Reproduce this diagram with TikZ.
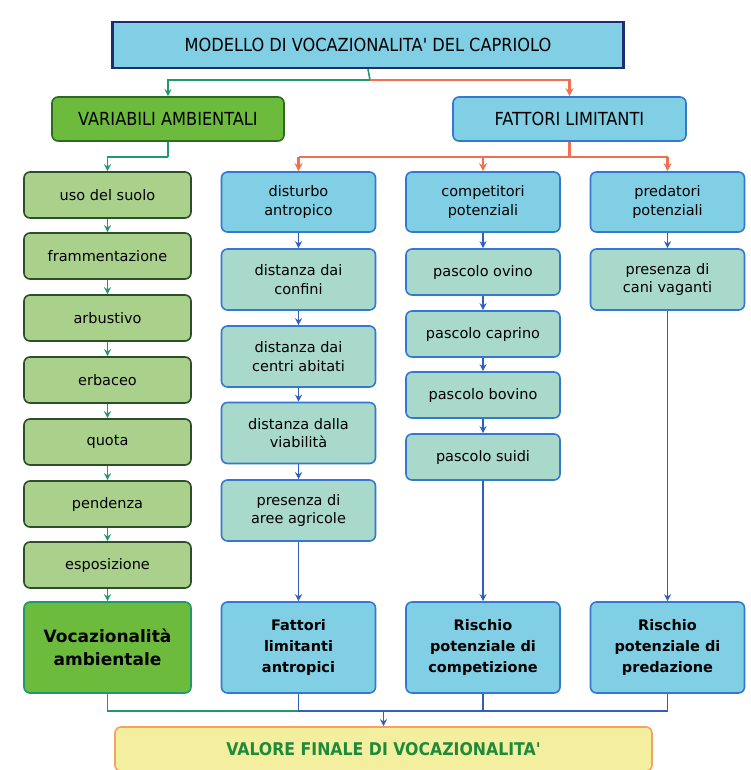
\documentclass[tikz,border=0pt]{standalone}
\usepackage{fontspec}
\setmainfont{DejaVu Sans}
\newfontfamily\condfont{DejaVu Sans Condensed}
\usetikzlibrary{arrows.meta}

\definecolor{skyfill}{HTML}{80CFE4}
\definecolor{navyline}{HTML}{1E2E6C}
\definecolor{grassfill}{HTML}{6DBB3D}
\definecolor{grassline}{HTML}{2F6A22}
\definecolor{sagefill}{HTML}{A9D18C}
\definecolor{sageline}{HTML}{2C4F28}
\definecolor{tealfill}{HTML}{A8D9CB}
\definecolor{blueline}{HTML}{3478D2}
\definecolor{arrowgreen}{HTML}{1E9A6C}
\definecolor{arroworange}{HTML}{F2704E}
\definecolor{arrowblue}{HTML}{2F5FC0}
\definecolor{lemonfill}{HTML}{F4EF9E}
\definecolor{lemonline}{HTML}{F4A35A}
\definecolor{titlegreen}{HTML}{1E8A3A}

\tikzset{
    box/.style={draw, rounded corners=6pt, line width=1.6pt, align=center,
        inner sep=2pt, text=black, font=\fontsize{14.5}{18.5}\selectfont},
    envbox/.style={box, fill=sagefill, draw=sageline, minimum width=167pt, minimum height=46pt},
    headbox/.style={box, fill=skyfill, draw=blueline, minimum width=154pt, minimum height=60pt},
    stepbox/.style={box, fill=tealfill, draw=blueline, minimum width=154pt, minimum height=61pt},
    pasbox/.style={box, fill=tealfill, draw=blueline, minimum width=154pt, minimum height=46pt},
    endbox/.style={box, fill=skyfill, draw=blueline, minimum width=154pt, minimum height=91pt,
        font=\fontsize{14.5}{21}\selectfont\bfseries},
    gline/.style={draw=arrowgreen, line width=1.6pt},
    oline/.style={draw=arroworange, line width=2.2pt},
    bline/.style={draw=arrowblue, line width=1.6pt},
    garrow/.style={gline, -{Stealth[length=7pt,width=7pt]}},
    oarrow/.style={oline, -{Stealth[length=8pt,width=8pt]}},
    barrow/.style={bline, -{Stealth[length=7pt,width=7pt]}}
}

\begin{document}
\begin{tikzpicture}[x=1pt, y=-1pt]
    \useasboundingbox[fill=white] (0,0) rectangle (751,770);

    % title and the two branches
    \node[draw=navyline, fill=skyfill, line width=2.4pt, minimum width=511pt, minimum height=46pt,
        font=\condfont\fontsize{18}{20}\selectfont] (model) at (368,45) {MODELLO DI VOCAZIONALITA' DEL CAPRIOLO};
    \node[box, fill=grassfill, draw=grassline, minimum width=232pt, minimum height=44pt,
        font=\condfont\fontsize{18}{20}\selectfont] (var) at (168,119) {VARIABILI AMBIENTALI};
    \node[box, fill=skyfill, draw=blueline, minimum width=233pt, minimum height=44pt,
        font=\condfont\fontsize{18}{20}\selectfont] (lim) at (569.5,119) {FATTORI LIMITANTI};

    \coordinate (split) at (370,80);
    \draw[gline] (model.south) -- (split);
    \draw[garrow] (split) -| (var.north);
    \draw[oarrow] (split) -| (lim.north);

    % environmental variables
    \node[envbox] (suolo) at (107.5,195) {uso del suolo};
    \node[envbox] (fram) at (107.5,256) {frammentazione};
    \node[envbox] (arb) at (107.5,318) {arbustivo};
    \node[envbox] (erb) at (107.5,380) {erbaceo};
    \node[envbox] (quota) at (107.5,442) {quota};
    \node[envbox] (pend) at (107.5,504) {pendenza};
    \node[envbox] (espo) at (107.5,565) {esposizione};
    \node[box, fill=grassfill, draw=arrowgreen, minimum width=167pt, minimum height=91pt,
        font=\fontsize{17}{23}\selectfont\bfseries] (voc) at (107.5,647.5) {Vocazionalità\\ambientale};

    \coordinate (varsplit) at (168,157);
    \draw[gline] (var.south) -- (varsplit);
    \draw[garrow] (varsplit) -| (suolo.north);
    \foreach \a/\b in {suolo/fram, fram/arb, arb/erb, erb/quota, quota/pend, pend/espo, espo/voc}
        \draw[garrow] (\a) -- (\b);

    % limiting factors
    \node[headbox] (dist) at (298.5,202) {disturbo\\antropico};
    \node[stepbox] (conf) at (298.5,279.5) {distanza dai\\confini};
    \node[stepbox] (centri) at (298.5,356.5) {distanza dai\\centri abitati};
    \node[stepbox] (viab) at (298.5,433) {distanza dalla\\viabilità};
    \node[stepbox] (agri) at (298.5,510.5) {presenza di\\aree agricole};
    \node[endbox] (antr) at (298.5,647.5) {Fattori\\limitanti\\antropici};

    \node[headbox] (comp) at (483,202) {competitori\\potenziali};
    \node[pasbox] (ovino) at (483,272) {pascolo ovino};
    \node[pasbox] (caprino) at (483,334) {pascolo caprino};
    \node[pasbox] (bovino) at (483,395) {pascolo bovino};
    \node[pasbox] (suidi) at (483,457) {pascolo suidi};
    \node[endbox] (rcomp) at (483,647.5) {Rischio\\potenziale di\\competizione};

    \node[headbox] (pred) at (667.5,202) {predatori\\potenziali};
    \node[stepbox] (cani) at (667.5,279.5) {presenza di\\cani vaganti};
    \node[endbox] (rpred) at (667.5,647.5) {Rischio\\potenziale di\\predazione};

    \coordinate (limsplit) at (569.5,157);
    \draw[oline] (lim.south) -- (limsplit);
    \draw[oline] (dist.north |- limsplit) -- (pred.north |- limsplit);
    \foreach \c in {dist, comp, pred}
        \draw[oarrow] (\c.north |- limsplit) -- (\c.north);

    \foreach \a/\b in {dist/conf, conf/centri, centri/viab, viab/agri, agri/antr,
                       comp/ovino, ovino/caprino, caprino/bovino, bovino/suidi, suidi/rcomp,
                       pred/cani, cani/rpred}
        \draw[barrow] (\a) -- (\b);

    % final value
    \node[box, fill=lemonfill, draw=lemonline, minimum width=537pt, minimum height=44pt,
        font=\condfont\fontsize{17.5}{20}\selectfont\bfseries, text=titlegreen] (valore) at (383.5,749) {VALORE FINALE DI VOCAZIONALITA'};

    \coordinate (bus) at (383.5,711);
    \draw[gline] (voc.south) |- (bus -| antr.south);
    \draw[bline] (antr.south) |- (bus -| rpred.south) -- (rpred.south);
    \draw[bline] (rcomp.south) -- (rcomp.south |- bus);
    \draw[barrow] (bus) -- (valore.north);
\end{tikzpicture}
\end{document}
